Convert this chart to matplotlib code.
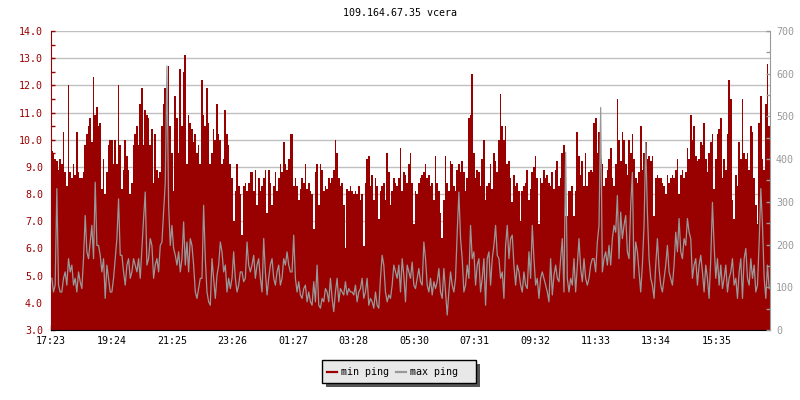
import matplotlib
matplotlib.use("Agg")
import matplotlib.pyplot as plt
import numpy as np
from matplotlib.patches import Rectangle
from matplotlib.lines import Line2D
from matplotlib.ticker import MultipleLocator, FormatStrFormatter

title = "109.164.67.35 vcera"
tick_labels = ["17:23", "19:24", "21:25", "23:26", "01:27", "03:28",
               "05:30", "07:31", "09:32", "11:33", "13:34", "15:35"]
legend_labels = ["min ping", "max ping"]
TICK_STEP_MIN = 121.1     # minutes between labelled ticks
SAMPLE_MIN = 3.339        # minutes between samples

# min ping (ms, left axis)
min_ping = [
    9.6, 9.5, 9.3, 9.2, 8.9, 9.3, 9.1, 10.3, 8.8, 8.3, 12.0, 8.8, 8.6, 9.1, 8.7, 10.3, 8.8, 8.6, 8.6, 8.8, 9.8, 10.2, 10.5, 10.8, 9.9, 12.3, 10.9, 11.2, 10.5, 10.6, 8.2, 9.3, 8.0, 8.8, 9.8, 10.0,
    10.0, 9.1, 10.0, 9.1, 12.0, 9.8, 8.2, 8.9, 10.0, 9.4, 8.9, 8.0, 8.4, 9.8, 10.2, 10.5, 9.8, 11.3, 11.9, 9.8, 11.1, 10.9, 10.8, 9.8, 10.4, 8.4, 10.2, 8.9, 8.6, 8.8, 10.5, 11.3, 11.9, 11.3, 12.7, 10.5,
    9.5, 8.1, 11.6, 10.8, 9.5, 12.6, 10.5, 12.5, 13.1, 9.1, 10.9, 10.6, 10.4, 9.9, 10.2, 9.5, 9.8, 9.1, 12.2, 10.9, 10.5, 11.9, 10.6, 9.1, 9.5, 10.4, 10.0, 11.3, 10.2, 10.0, 9.1, 9.3, 11.1, 10.2, 9.8, 9.1,
    8.6, 7.0, 8.1, 9.1, 8.3, 8.0, 6.5, 8.3, 8.4, 8.1, 8.4, 8.8, 8.8, 8.1, 8.9, 7.6, 8.6, 8.1, 8.3, 8.6, 8.9, 7.3, 8.9, 8.4, 7.6, 8.3, 8.8, 8.1, 8.6, 9.1, 8.8, 9.9, 9.1, 8.9, 9.3, 10.2,
    10.2, 8.3, 8.6, 8.3, 7.8, 8.2, 8.6, 8.4, 9.1, 8.2, 8.4, 8.1, 8.0, 6.7, 8.8, 9.1, 7.6, 9.1, 8.9, 8.1, 8.3, 8.2, 8.6, 8.4, 8.6, 8.9, 10.0, 9.5, 8.6, 8.3, 8.4, 7.6, 6.0, 8.2, 8.1, 8.3,
    8.1, 8.0, 8.1, 8.0, 8.3, 7.8, 8.0, 6.1, 8.4, 9.3, 9.4, 8.3, 8.7, 7.8, 8.6, 8.3, 7.1, 8.1, 8.3, 8.4, 7.8, 9.5, 8.8, 7.6, 8.1, 8.6, 8.4, 8.3, 8.6, 9.7, 8.1, 8.8, 8.7, 8.4, 9.1, 9.5,
    8.4, 6.9, 8.1, 8.0, 8.4, 8.6, 8.7, 8.8, 9.1, 8.6, 8.7, 8.3, 8.4, 7.8, 9.4, 8.4, 8.1, 7.3, 6.4, 7.8, 9.4, 8.4, 8.1, 9.2, 9.1, 8.3, 8.1, 8.9, 9.1, 8.8, 9.2, 8.8, 8.1, 8.6, 10.8, 10.9,
    12.4, 9.5, 8.6, 8.9, 8.8, 8.3, 9.3, 10.0, 7.8, 8.3, 8.4, 9.1, 8.2, 9.5, 9.2, 8.8, 10.0, 11.7, 10.5, 10.0, 10.5, 9.1, 9.2, 8.6, 7.7, 8.7, 8.3, 8.4, 8.1, 7.0, 8.1, 8.3, 8.4, 8.9, 7.8, 8.2,
    8.8, 9.0, 9.4, 8.6, 6.9, 8.6, 8.4, 8.9, 8.6, 8.7, 8.4, 8.3, 8.8, 8.2, 8.9, 9.2, 8.3, 8.6, 9.5, 9.8, 7.2, 7.2, 8.1, 8.1, 8.3, 7.2, 8.1, 10.3, 9.4, 8.7, 9.2, 8.3, 9.5, 8.3, 8.8, 8.9,
    8.8, 10.6, 10.8, 9.5, 10.3, 9.3, 9.1, 8.3, 8.6, 8.9, 9.3, 9.7, 8.6, 8.3, 9.1, 11.5, 10.0, 9.2, 10.3, 10.0, 9.1, 8.7, 10.0, 9.5, 10.2, 9.3, 8.6, 8.4, 8.8, 10.5, 8.9, 9.5, 9.9, 9.3, 9.4, 9.2,
    9.4, 7.2, 8.6, 8.7, 8.6, 8.6, 8.4, 8.3, 8.0, 8.7, 8.4, 8.6, 8.7, 8.6, 8.9, 9.3, 8.0, 8.7, 8.9, 8.6, 8.8, 9.7, 9.3, 10.9, 10.0, 10.5, 9.4, 9.2, 9.3, 9.9, 9.8, 10.6, 9.3, 8.8, 9.5, 9.9,
    10.2, 8.2, 9.3, 10.2, 10.4, 10.8, 8.6, 9.3, 8.9, 10.2, 12.2, 11.5, 7.8, 7.1, 8.7, 8.3, 9.9, 9.3, 11.5, 9.5, 9.3, 9.5, 8.9, 10.5, 10.3, 8.6, 7.6, 6.9, 10.6, 11.6, 9.3, 8.9, 11.3, 12.8, 10.5,
]

# max ping (ms, right axis)
max_ping = [
    121, 89, 105, 331, 105, 89, 89, 121, 136, 105, 167, 136, 152, 105, 121, 89, 136, 113, 97, 167, 268, 183, 167, 206, 245, 167, 346, 198, 198, 175, 136, 167, 74, 152, 121, 89,
    89, 121, 167, 214, 307, 175, 175, 136, 105, 152, 167, 121, 136, 167, 152, 136, 167, 121, 191, 261, 323, 152, 167, 214, 198, 121, 152, 167, 136, 198, 206, 276, 346, 618, 292, 198,
    245, 191, 175, 152, 183, 136, 167, 253, 152, 206, 136, 214, 198, 152, 89, 74, 97, 121, 121, 292, 167, 89, 66, 58, 167, 121, 74, 128, 152, 206, 183, 136, 152, 89, 121, 97,
    121, 183, 121, 89, 105, 136, 136, 113, 121, 206, 152, 136, 152, 175, 121, 152, 167, 121, 89, 214, 136, 82, 121, 152, 167, 121, 105, 136, 152, 105, 121, 167, 152, 183, 152, 136,
    136, 222, 121, 89, 113, 82, 74, 97, 105, 66, 89, 66, 58, 113, 66, 152, 58, 51, 74, 66, 97, 89, 66, 121, 74, 43, 89, 121, 66, 97, 89, 82, 113, 82, 97, 89,
    89, 82, 105, 66, 89, 97, 121, 74, 89, 121, 58, 74, 66, 51, 89, 58, 51, 121, 175, 152, 89, 66, 82, 74, 105, 152, 136, 121, 152, 89, 167, 128, 66, 152, 136, 121,
    159, 105, 97, 121, 144, 113, 105, 206, 167, 105, 89, 121, 82, 113, 97, 113, 144, 89, 74, 144, 89, 35, 89, 136, 105, 89, 121, 229, 323, 214, 167, 89, 105, 152, 121, 245,
    167, 183, 105, 152, 167, 89, 121, 167, 58, 167, 183, 105, 167, 198, 245, 175, 167, 121, 136, 74, 198, 245, 167, 214, 222, 152, 105, 152, 136, 105, 89, 136, 105, 97, 183, 121,
    245, 167, 105, 121, 74, 121, 136, 121, 105, 89, 66, 167, 82, 128, 152, 121, 113, 167, 214, 89, 416, 121, 89, 121, 105, 167, 89, 152, 214, 144, 113, 167, 121, 105, 121, 152,
    167, 167, 136, 206, 245, 521, 136, 167, 183, 152, 198, 152, 214, 245, 229, 315, 167, 276, 214, 245, 268, 183, 167, 292, 369, 121, 206, 183, 136, 89, 152, 245, 439, 276, 167, 121,
    105, 74, 152, 214, 144, 105, 89, 121, 152, 198, 136, 121, 105, 152, 229, 183, 261, 183, 167, 214, 198, 261, 229, 214, 121, 152, 167, 105, 152, 175, 136, 89, 152, 121, 74, 167,
    299, 198, 121, 167, 105, 152, 97, 121, 152, 89, 121, 136, 167, 105, 121, 74, 136, 167, 74, 167, 191, 121, 105, 167, 121, 152, 89, 105, 206, 331, 245, 121, 74, 152, 97,
]

RED = "#990000"
GRAY = "#999999"
MONO = "DejaVu Sans Mono"
FS = 7.2

W, H = 800, 400
fig = plt.figure(figsize=(W / 100, H / 100), dpi=100)
fig.patch.set_facecolor("white")


def fx(px):
    return px / W


def fy(py):
    return 1 - py / H


ax = fig.add_axes([fx(51), fy(330), fx(770) - fx(51), fy(31) - fy(330)])

n = len(min_ping)
edges = np.arange(n + 1) * SAMPLE_MIN
ax.stairs(min_ping, edges, baseline=3.0, fill=True, color=RED, lw=0, zorder=2)
ax.set_xlim(0, n * SAMPLE_MIN)
ax.set_ylim(3, 14)
ax.yaxis.set_major_locator(MultipleLocator(1))
ax.yaxis.set_minor_locator(MultipleLocator(0.5))
ax.yaxis.set_major_formatter(FormatStrFormatter("%.1f"))
ax.grid(axis="y", which="major", color="#c0c0c0", lw=1)
ax.set_axisbelow(True)

ax.set_xticks(np.arange(len(tick_labels)) * TICK_STEP_MIN)
ax.set_xticklabels(tick_labels, family=MONO, fontsize=FS)
ax.tick_params(axis="x", direction="in", length=3.6, width=1, colors="black", pad=4.5)
ax.tick_params(axis="y", which="both", direction="in", length=3, width=1, colors=RED,
               labelsize=FS, pad=5.8)
for lab in ax.get_yticklabels():
    lab.set_family(MONO)

for s in ("top", "right"):
    ax.spines[s].set_visible(False)
ax.spines["left"].set_color(RED)
ax.spines["bottom"].set_color("black")

ax2 = ax.twinx()
xg = (np.arange(len(max_ping)) + 0.5) * SAMPLE_MIN
ax2.plot(xg, max_ping, color=GRAY, lw=0.9, zorder=3)
ax2.set_ylim(0, 700)
ax2.yaxis.set_major_locator(MultipleLocator(100))
ax2.yaxis.set_minor_locator(MultipleLocator(50))
ax2.tick_params(axis="y", which="both", direction="in", length=3, width=1, colors=GRAY,
                labelsize=FS, pad=4.3)
for lab in ax2.get_yticklabels():
    lab.set_family(MONO)
for s in ("top", "left", "bottom"):
    ax2.spines[s].set_visible(False)
ax2.spines["right"].set_color(GRAY)

fig.text(0.5, fy(13), title, ha="center", va="center", family=MONO, fontsize=FS)

# legend (drawn manually to reproduce shadowed box)
bx0, bx1, by0, by1 = 322, 476, 360, 383
fig.add_artist(Rectangle((fx(bx0 + 4), fy(by1 + 4)), fx(bx1 - bx0), fy(by0) - fy(by1),
                         transform=fig.transFigure, facecolor="#555555", edgecolor="none"))
fig.add_artist(Rectangle((fx(bx0), fy(by1)), fx(bx1 - bx0), fy(by0) - fy(by1),
                         transform=fig.transFigure, facecolor="#e8e8e8", edgecolor="black", lw=1))
ly = fy(372)
for (x0, col, lab) in [(327, RED, legend_labels[0]), (396, GRAY, legend_labels[1])]:
    fig.add_artist(Line2D([fx(x0), fx(x0 + 10)], [ly, ly], transform=fig.transFigure,
                          color=col, lw=1.6))
    fig.text(fx(x0 + 14), ly, lab, ha="left", va="center", family=MONO, fontsize=FS)

fig.savefig("out.png", dpi=100)
